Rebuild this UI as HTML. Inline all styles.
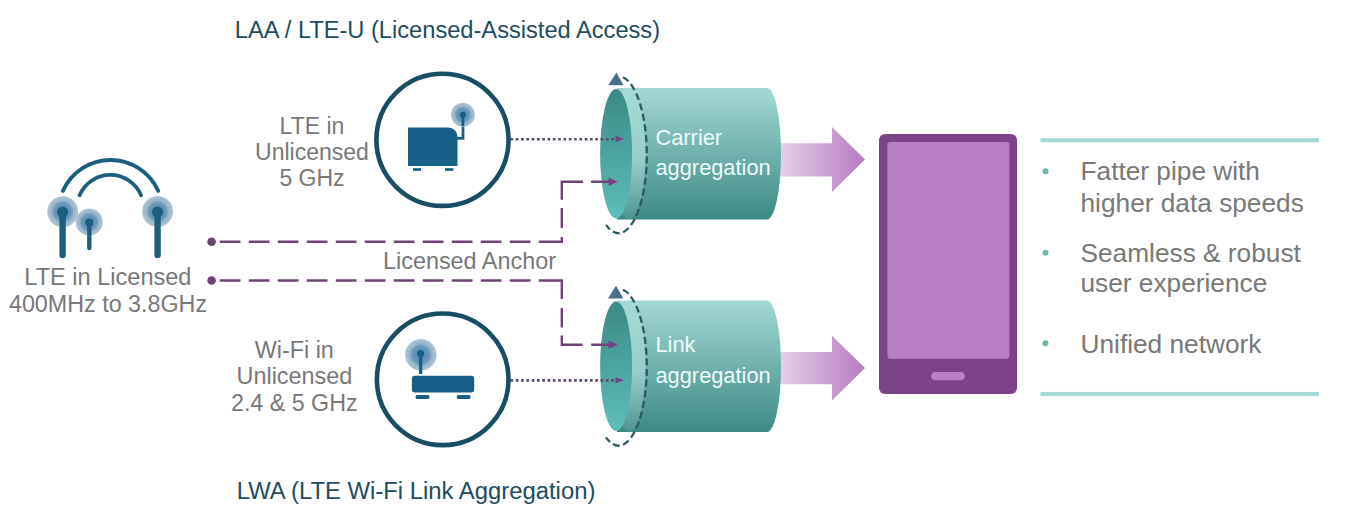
<!DOCTYPE html>
<html><head><meta charset="utf-8">
<style>
html,body{margin:0;padding:0;background:#fff;width:1346px;height:525px;overflow:hidden}
svg{display:block}
text{font-family:"Liberation Sans",sans-serif}
</style></head><body>
<svg width="1346" height="525" viewBox="0 0 1346 525">
<defs>
  <linearGradient id="body" x1="0" y1="0" x2="0" y2="1">
    <stop offset="0" stop-color="#a3d9d5"/>
    <stop offset="1" stop-color="#3c8a84"/>
  </linearGradient>
  <linearGradient id="rim" x1="0" y1="0" x2="0" y2="1">
    <stop offset="0" stop-color="#a6dbd7"/>
    <stop offset="0.55" stop-color="#94cfca"/>
    <stop offset="0.8" stop-color="#6fb0aa"/>
    <stop offset="1" stop-color="#4b958f"/>
  </linearGradient>
  <linearGradient id="face" x1="0" y1="0" x2="0" y2="1">
    <stop offset="0" stop-color="#3a8a84"/>
    <stop offset="1" stop-color="#5cbfb7"/>
  </linearGradient>
  <radialGradient id="halo" cx="0.5" cy="0.5" r="0.5">
    <stop offset="0" stop-color="#5289b0"/>
    <stop offset="0.5" stop-color="#6596b9"/>
    <stop offset="0.62" stop-color="#77a1bf"/>
    <stop offset="0.7" stop-color="#98b4c9"/>
    <stop offset="0.92" stop-color="#a9c0d1"/>
    <stop offset="1" stop-color="#b7cad8"/>
  </radialGradient>
  <linearGradient id="arrow" x1="0" y1="0" x2="1" y2="0">
    <stop offset="0" stop-color="#e6d0e8"/>
    <stop offset="1" stop-color="#b57cbf"/>
  </linearGradient>
  <g id="cyl">
    <path d="M617,88 H767 A14,65.75 0 0 1 767,219.5 H617 Z" fill="url(#body)"/>
    <ellipse cx="629" cy="153.75" rx="16.5" ry="65.6" fill="url(#rim)"/>
    <ellipse cx="616.1" cy="153.7" rx="16" ry="64.7" fill="url(#face)"/>
  </g>
</defs>

<!-- Titles -->
<text x="234.8" y="37.6" font-size="23.65" fill="#1d4c5f">LAA / LTE-U (Licensed-Assisted Access)</text>
<text x="236.7" y="499" font-size="23.85" fill="#1d4c5f">LWA (LTE Wi-Fi Link Aggregation)</text>

<!-- Left antenna icon -->
<g fill="none" stroke="#1b5f80" stroke-width="3.8" stroke-linecap="round">
  <path d="M62.9,190.9 A52.2,52.2 0 0 1 158.2,190.9"/>
  <path d="M79.6,195.3 A33.4,33.4 0 0 1 141.1,195.3"/>
</g>
<g>
  <circle cx="62.7" cy="211.7" r="15.5" fill="url(#halo)"/>
  <circle cx="62.6" cy="212.2" r="5.6" fill="#1b5f80"/>
  <line x1="62.6" y1="212" x2="62.6" y2="255" stroke="#1b5f80" stroke-width="6.4" stroke-linecap="round"/>
  <circle cx="89.2" cy="222" r="13.6" fill="url(#halo)"/>
  <circle cx="89.3" cy="222.5" r="4.1" fill="#1b5f80"/>
  <line x1="89.3" y1="222.5" x2="89.3" y2="248" stroke="#1b5f80" stroke-width="4.4" stroke-linecap="round"/>
  <circle cx="157.6" cy="211.5" r="15.5" fill="url(#halo)"/>
  <circle cx="157.6" cy="212" r="5.6" fill="#1b5f80"/>
  <line x1="157.6" y1="212" x2="157.6" y2="255" stroke="#1b5f80" stroke-width="6.4" stroke-linecap="round"/>
</g>
<g font-size="23.3" fill="#787878" text-anchor="middle">
  <text x="107.9" y="284.7" font-size="23.55">LTE in Licensed</text>
  <text x="108" y="311.7">400MHz to 3.8GHz</text>
</g>

<!-- LTE-U text -->
<g font-size="23" fill="#787878" text-anchor="middle">
  <text x="312" y="133.5">LTE in</text>
  <text x="312" y="159.6">Unlicensed</text>
  <text x="312" y="186">5 GHz</text>
  <text x="294.3" y="357.8" font-size="23.35">Wi-Fi in</text>
  <text x="294.4" y="384.4" font-size="23.4">Unlicensed</text>
  <text x="294.3" y="410.6" font-size="23.25">2.4 &amp; 5 GHz</text>
</g>
<text x="383" y="268.5" font-size="23.4" fill="#787878">Licensed Anchor</text>

<!-- circles -->
<circle cx="442.5" cy="139.8" r="66.1" fill="none" stroke="#184d64" stroke-width="4.6"/>
<circle cx="442.7" cy="379.3" r="65.8" fill="none" stroke="#184d64" stroke-width="4.6"/>

<!-- LTE-U device icon -->
<path d="M408,127.5 H448.5 A9,9 0 0 1 457.5,136.5 V166 H408 Z" fill="#165f86"/>
<rect x="413" y="168.2" width="8" height="2.6" fill="#165f86"/>
<rect x="445" y="168.2" width="8.3" height="2.6" fill="#165f86"/>
<path d="M457,138.4 H463 V115" fill="none" stroke="#165f86" stroke-width="2.8"/>
<circle cx="462.9" cy="114.8" r="12" fill="url(#halo)"/>
<circle cx="462.9" cy="114.8" r="3" fill="#165f86"/>
<line x1="462.9" y1="115" x2="462.9" y2="126" stroke="#165f86" stroke-width="2.8"/>

<!-- Router icon -->
<circle cx="420.8" cy="354.8" r="15.8" fill="url(#halo)"/>
<circle cx="420.6" cy="353.5" r="3.6" fill="#165f86"/>
<line x1="420.6" y1="354" x2="420.6" y2="374" stroke="#165f86" stroke-width="3.4"/>
<rect x="411.9" y="375.7" width="62.3" height="16.8" rx="3" fill="#165f86"/>
<rect x="415.7" y="395" width="13.6" height="4" rx="1.2" fill="#165f86"/>
<rect x="456.8" y="395" width="13.6" height="4" rx="1.2" fill="#165f86"/>

<!-- pink arrows -->
<path d="M780,143.3 H832 V127.1 L865,159.5 L832,192 V176.6 H780 Z" fill="url(#arrow)"/>
<path d="M780,351.9 H832 V335.7 L865,368 L832,400.4 V384.2 H780 Z" fill="url(#arrow)"/>

<!-- cylinders -->
<use href="#cyl"/>
<use href="#cyl" transform="translate(0,212.5)"/>

<!-- cylinder text -->
<g font-size="21.8" fill="#effbfa">
  <text x="655.5" y="144.7">Carrier</text>
  <text x="655.5" y="174.7">aggregation</text>
  <text x="655.5" y="351.7">Link</text>
  <text x="655.5" y="382.6">aggregation</text>
</g>

<!-- dashed/dotted connectors -->
<g fill="none" stroke="#6f4376" stroke-width="2.4" stroke-linejoin="miter">
  <path d="M219.8,241.8H240.5 M248.8,241.8H269.5 M277.8,241.8H298.5 M306.8,241.8H327.5 M335.8,241.8H356.5 M364.8,241.8H385.5 M393.8,241.8H414.5 M422.8,241.8H443.5 M451.8,241.8H472.5 M480.8,241.8H501.5 M509.8,241.8H530.5 M538.8,241.8H561.8V237 M561.8,228V208.1 M561.8,199.7V181.7H583.1 M591.1,181.7H611"/>
  <path d="M219.8,280.5H240.5 M248.8,280.5H269.5 M277.8,280.5H298.5 M306.8,280.5H327.5 M335.8,280.5H356.5 M364.8,280.5H385.5 M393.8,280.5H414.5 M422.8,280.5H443.5 M451.8,280.5H472.5 M480.8,280.5H501.5 M509.8,280.5H530.5 M538.8,280.5H561.8V299.1 M561.8,308V327.4 M561.8,335.5V344.7H582.6 M591.2,344.7H611"/>
</g>
<circle cx="211.6" cy="241.8" r="4.3" fill="#6f4376"/>
<circle cx="211.6" cy="280.5" r="4.3" fill="#6f4376"/>
<g fill="none" stroke="#5b4863" stroke-width="2.6" stroke-dasharray="2.6 2.7">
  <path d="M510.5,139.3 H616"/>
  <path d="M510.5,380.4 H616"/>
</g>
<g fill="#7a3f86">
  <path d="M608.6,177.5 L617.6,181.7 L608.6,185.9 Z"/>
  <path d="M608.6,340.5 L617.6,344.7 L608.6,348.9 Z"/>
  <path d="M615.5,135.8 L623.8,139 L615.5,142.2 Z"/>
  <path d="M615.5,377 L623.7,380.2 L615.5,383.4 Z"/>
</g>

<!-- rotation dashed ellipses -->
<g fill="none" stroke="#2c5a67" stroke-width="2.3" stroke-dasharray="7 3.7">
  <path d="M623,77.2 A28.5,78.6 0 0 1 620.5,233.1 A28.5,78.6 0 0 1 606,224.8"/>
  <path d="M623,289.7 A28.5,78.6 0 0 1 620.5,445.6 A28.5,78.6 0 0 1 606,437.3"/>
</g>
<g fill="#4a6f88">
  <path d="M616.4,72.6 L623.6,85.2 L608.3,85.2 Z"/>
  <path d="M616,285.8 L623.4,298.4 L608,298.4 Z"/>
</g>

<!-- phone -->
<rect x="879" y="134" width="138" height="260" rx="6" fill="#7b4486"/>
<rect x="887.4" y="142.1" width="122" height="216.6" rx="3" fill="#b87fc2"/>
<rect x="931" y="372" width="34" height="8.3" rx="4.15" fill="#b87fc2"/>

<!-- right bullets -->
<rect x="1040.5" y="138.3" width="278.5" height="4" fill="#a3d9d3"/>
<rect x="1040.5" y="391.9" width="278.5" height="4" fill="#a3d9d3"/>
<g fill="#6fb8b0">
  <circle cx="1045.5" cy="171.3" r="3"/>
  <circle cx="1045.5" cy="252.8" r="3"/>
  <circle cx="1045.5" cy="343.3" r="3"/>
</g>
<g font-size="26.25" fill="#787878">
  <text x="1080.5" y="180.2">Fatter pipe with</text>
  <text x="1080.5" y="211.7">higher data speeds</text>
  <text x="1080.5" y="261.7">Seamless &amp; robust</text>
  <text x="1080.5" y="292.2">user experience</text>
  <text x="1080.5" y="352.7">Unified network</text>
</g>
</svg>
</body></html>
